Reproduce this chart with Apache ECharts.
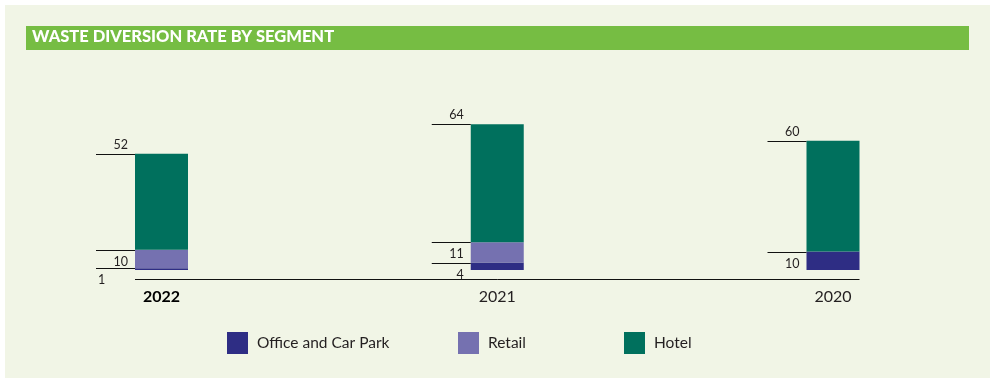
<!DOCTYPE html>
<html>
<head>
<meta charset="utf-8">
<style>
html,body{margin:0;padding:0;background:#ffffff;}
#chart{width:997px;height:383px;}
</style>
<script src="https://cdn.jsdelivr.net/npm/echarts@6/dist/echarts.min.js"></script>
</head>
<body>
<div id="chart"></div>
<script>
const categories = ['2022', '2021', '2020'];
const office = [1, 4, 10];
const retail = [10, 11, 0];
const hotel = [52, 64, 60];
const seriesNames = ['Office and Car Park', 'Retail', 'Hotel'];
const colors = ['#2e2d84', '#7571b0', '#00705d'];

const BAR_W = 53;
const FONT = 'Lato, "Open Sans", sans-serif';
const segs = [office, retail, hotel];

const chart = echarts.init(document.getElementById('chart'), null, {renderer: 'canvas'});

function annotRender(params, api) {
  const i = params.dataIndex;
  const children = [];
  const center = api.coord([i, 0]);
  const barLeft = center[0] - BAR_W / 2;
  let cum = 0;
  let lastIdx = -1;
  segs.forEach((arr, k) => { if (arr[i] > 0) lastIdx = k; });
  segs.forEach((arr, k) => {
    const v = arr[i];
    if (!(v > 0)) return;
    const base = api.coord([i, cum]);
    cum += v;
    const top = api.coord([i, cum]);
    const y = Math.round(top[1]) + 0.5;
    children.push({
      type: 'line',
      shape: {x1: barLeft - 39, y1: y, x2: barLeft, y2: y},
      style: {stroke: '#111', lineWidth: 1}
    });
    const small = (base[1] - top[1]) < 4;
    let tx, ty, align;
    if (k === lastIdx) {
      tx = barLeft - 7; ty = y - 10; align = 'right';
    } else if (small) {
      tx = barLeft - 37; ty = y + 11; align = 'left';
    } else {
      tx = barLeft - 7; ty = y + 11; align = 'right';
    }
    children.push({
      type: 'text',
      style: {
        text: String(v), x: tx, y: ty, align: align, verticalAlign: 'middle',
        fontSize: 12.5, fontFamily: FONT, fill: '#231f20'
      }
    });
  });
  return {type: 'group', children: children};
}

function baseRender(params, api) {
  const a = api.coord([0, 0]);
  const b = api.coord([categories.length - 1, 0]);
  const y = Math.round(a[1]) + 9.5;
  return {
    type: 'line',
    shape: {x1: a[0] - BAR_W / 2, y1: y, x2: b[0] + BAR_W / 2, y2: y},
    style: {stroke: '#111', lineWidth: 1}
  };
}

const barSeries = segs.map((arr, k) => ({
  name: seriesNames[k],
  type: 'bar',
  stack: 'total',
  barWidth: BAR_W,
  clip: false,
  itemStyle: {color: colors[k]},
  data: arr,
  animation: false
}));

const legendLefts = [227, 458, 624];

const option = {
  animation: false,
  backgroundColor: '#ffffff',
  graphic: [
    {type: 'rect', left: 5, top: 5, shape: {width: 985, height: 373}, style: {fill: '#f1f5e6'}, z: -10},
    {type: 'rect', left: 26, top: 26, shape: {width: 943, height: 24}, style: {fill: '#76bd43'}, z: -5},
    {type: 'text', left: 32, top: 28.5, style: {text: 'WASTE DIVERSION RATE BY SEGMENT', fill: '#ffffff', font: '900 16.5px ' + FONT}, z: 5}
  ],
  legend: seriesNames.map((n, k) => ({
    data: [n],
    left: legendLefts[k],
    top: 332,
    padding: 0,
    itemWidth: 21,
    itemHeight: 22,
    icon: 'rect',
    selectedMode: false,
    textStyle: {fontSize: 15.5, fontFamily: FONT, color: '#231f20', padding: [0, 0, 0, 4]}
  })),
  grid: {left: 161.5, right: 164, top: 85.5, bottom: 113, containLabel: false},
  xAxis: {
    type: 'category',
    data: categories,
    boundaryGap: false,
    axisLine: {show: false},
    axisTick: {show: false},
    splitLine: {show: false},
    axisLabel: {
      margin: 19,
      fontSize: 16,
      fontFamily: FONT,
      color: '#231f20',
      formatter: (v, idx) => idx === 0 ? '{b|' + v + '}' : v,
      rich: {b: {fontSize: 16, fontWeight: 'bold', fontFamily: FONT, color: '#000'}}
    }
  },
  yAxis: {type: 'value', min: 0, max: 100, show: false, splitLine: {show: false}},
  series: barSeries.concat([
    {type: 'custom', name: 'annot', clip: false, renderItem: annotRender, data: categories.map((c, i) => [i, 0]), encode: {x: 0, y: 1}, z: 5, silent: true},
    {type: 'custom', name: 'base', clip: false, renderItem: baseRender, data: [[0, 0]], encode: {x: 0, y: 1}, z: 5, silent: true}
  ])
};
chart.setOption(option);
</script>
</body>
</html>
